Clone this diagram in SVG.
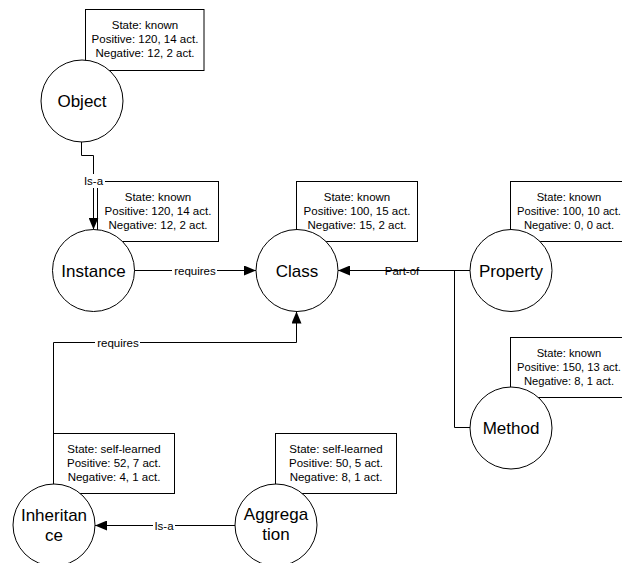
<svg xmlns="http://www.w3.org/2000/svg" width="622" height="563" viewBox="0 0 622 563">
  <style>
    .box { fill: #fff; stroke: #000; stroke-width: 1; }
    .node { fill: #fff; stroke: #000; stroke-width: 1; }
    .info { font-family: "Liberation Sans", Arial, sans-serif; font-size: 11.5px; fill: #000; text-anchor: middle; }
    .info.edge-side { font-size: 11.2px; }
    .name { font-family: "Liberation Sans", Arial, sans-serif; font-size: 17px; fill: #000; text-anchor: middle; }
    .edge { fill: none; stroke: #000; stroke-width: 1; }
    .lbl { font-family: "Liberation Sans", Arial, sans-serif; font-size: 11.5px; fill: #000; text-anchor: middle; }
    .lblbg { fill: #fff; stroke: none; }
  </style>
  <defs>
    <marker id="arrow" markerUnits="userSpaceOnUse" markerWidth="12" markerHeight="10" refX="12" refY="5" orient="auto">
      <path d="M0,0 L12,5 L0,10 z" fill="#000"/>
    </marker>
  </defs>
  <rect width="622" height="563" fill="#fff"/>

  <g id="object">
    <rect class="box" x="85.5" y="9.5" width="118.5" height="61"/>
    <text class="info" x="145" y="29">State: known</text>
    <text class="info" x="145" y="43">Positive: 120, 14 act.</text>
    <text class="info" x="145" y="57">Negative: 12, 2 act.</text>
    <circle class="node" cx="82" cy="101" r="41"/>
    <text class="name" x="82" y="107">Object</text>
  </g>

  <g id="instance">
    <rect class="box" x="97.5" y="181.5" width="121" height="60"/>
    <text class="info" x="158" y="201">State: known</text>
    <text class="info" x="158" y="215">Positive: 120, 14 act.</text>
    <text class="info" x="158" y="229">Negative: 12, 2 act.</text>
    <circle class="node" cx="93.5" cy="270.5" r="41"/>
    <text class="name" x="93.5" y="276.5">Instance</text>
  </g>

  <g id="class">
    <rect class="box" x="296.5" y="181.5" width="121" height="60"/>
    <text class="info" x="357" y="201">State: known</text>
    <text class="info" x="357" y="215">Positive: 100, 15 act.</text>
    <text class="info" x="357" y="229">Negative: 15, 2 act.</text>
    <circle class="node" cx="297" cy="270.5" r="41"/>
    <text class="name" x="297" y="276.5">Class</text>
  </g>

  <g id="property">
    <rect class="box" x="510.5" y="181.5" width="121" height="60"/>
    <text class="info edge-side" x="569" y="201">State: known</text>
    <text class="info edge-side" x="569" y="215">Positive: 100, 10 act.</text>
    <text class="info edge-side" x="569" y="229">Negative: 0, 0 act.</text>
    <circle class="node" cx="511" cy="270.5" r="41"/>
    <text class="name" x="511" y="276.5">Property</text>
  </g>

  <g id="method">
    <rect class="box" x="510.5" y="337.5" width="121" height="60"/>
    <text class="info edge-side" x="569" y="357">State: known</text>
    <text class="info edge-side" x="569" y="371">Positive: 150, 13 act.</text>
    <text class="info edge-side" x="569" y="385">Negative: 8, 1 act.</text>
    <circle class="node" cx="511" cy="428" r="41"/>
    <text class="name" x="511" y="434">Method</text>
  </g>

  <g id="inheritance">
    <rect class="box" x="53.5" y="433.5" width="121" height="60"/>
    <text class="info" x="114" y="453">State: self-learned</text>
    <text class="info" x="114" y="467">Positive: 52, 7 act.</text>
    <text class="info" x="114" y="481">Negative: 4, 1 act.</text>
    <circle class="node" cx="54" cy="525" r="41"/>
    <text class="name" x="54" y="521">Inheritan</text>
    <text class="name" x="54" y="541">ce</text>
  </g>

  <g id="aggregation">
    <rect class="box" x="275.5" y="433.5" width="121" height="60"/>
    <text class="info" x="336" y="453">State: self-learned</text>
    <text class="info" x="336" y="467">Positive: 50, 5 act.</text>
    <text class="info" x="336" y="481">Negative: 8, 1 act.</text>
    <circle class="node" cx="276" cy="525" r="41"/>
    <text class="name" x="276" y="520">Aggrega</text>
    <text class="name" x="276" y="540">tion</text>
  </g>

  <g id="connectors">
    <!-- Object is-a Instance -->
    <path class="edge" d="M81.5,142 V155.5 H93.5 V229.5" marker-end="url(#arrow)"/>
    <rect class="lblbg" x="83" y="174" width="22" height="14"/>
    <text class="lbl" x="93.5" y="185">Is-a</text>

    <!-- Instance requires Class -->
    <path class="edge" d="M134.5,270.5 H256" marker-end="url(#arrow)"/>
    <rect class="lblbg" x="172" y="263" width="45" height="14"/>
    <text class="lbl" x="195" y="274.5">requires</text>

    <!-- Property / Method part-of Class -->
    <path class="edge" d="M470,270.5 H338" marker-end="url(#arrow)"/>
    <path class="edge" d="M470,427.5 H454.5 V270.5"/>
    <text class="lbl" x="402" y="274.5">Part-of</text>

    <!-- Inheritance requires Class -->
    <path class="edge" d="M53.5,484 V342.5 H296.5 V311.5" marker-end="url(#arrow)"/>
    <rect class="lblbg" x="95" y="335" width="45" height="14"/>
    <text class="lbl" x="118" y="346.5">requires</text>

    <!-- Aggregation is-a Inheritance -->
    <path class="edge" d="M235,525.5 H95" marker-end="url(#arrow)"/>
    <rect class="lblbg" x="153" y="518" width="22" height="14"/>
    <text class="lbl" x="164" y="529.5">Is-a</text>
  </g>
</svg>
